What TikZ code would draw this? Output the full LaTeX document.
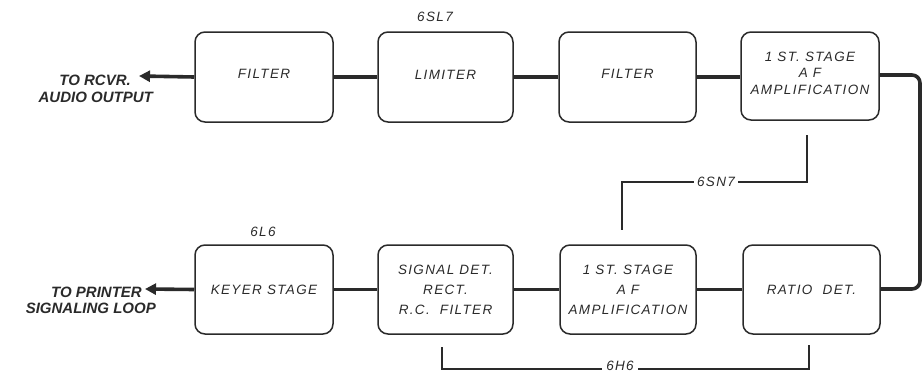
\documentclass[tikz,border=0pt]{standalone}
\usepackage{fontspec}
\setmainfont{Liberation Sans}
\newfontfamily\boxfont[LetterSpace=10]{Liberation Sans}
\newfontfamily\sidefont[LetterSpace=0]{Liberation Sans}
\usetikzlibrary{arrows.meta}
\definecolor{ink}{HTML}{2A2A2A}
\tikzset{
  blk/.style={draw=ink, line width=1.5pt, rounded corners=10pt, inner sep=0pt,
    font=\boxfont\itshape\fontsize{13.5}{20}\selectfont, text=ink, align=center},
  conn/.style={draw=ink, line width=3.6pt},
  outarrow/.style={conn, -{Triangle[length=11pt,width=11pt]}},
  brk/.style={draw=ink, line width=1.2pt},
  tube/.style={font=\boxfont\itshape\fontsize{13.5}{14}\selectfont, text=ink, inner sep=2pt},
  side/.style={font=\sidefont\bfseries\itshape\fontsize{15}{16}\selectfont, text=ink, inner sep=0pt, anchor=east}
}
\begin{document}
\begin{tikzpicture}[x=1pt,y=-1pt]
\useasboundingbox (0,0) rectangle (923,372);
% top row
\node[blk, minimum width=138pt, minimum height=90pt] (f1) at (264,77) {\raisebox{6pt}{FILTER}};
\node[blk, minimum width=135pt, minimum height=90pt] (lim) at (445.5,77) {\raisebox{5pt}{LIMITER}};
\node[blk, minimum width=137pt, minimum height=90pt] (f2) at (627.5,77) {\raisebox{6pt}{FILTER}};
\node[blk, minimum width=138pt, minimum height=88pt] (amp1) at (810,76) {\raisebox{6pt}{\shortstack{1 ST.\ STAGE\\[4pt]A F\\[4pt]AMPLIFICATION}}};
% bottom row
\node[blk, minimum width=138pt, minimum height=89pt] (key) at (264,289.5) {KEYER STAGE};
\node[blk, minimum width=135pt, minimum height=89pt] (sig) at (445.5,289.5) {SIGNAL DET.\\RECT.\\R.C.\ \ FILTER};
\node[blk, minimum width=136pt, minimum height=89pt] (amp2) at (628,289.5) {1 ST.\ STAGE\\A F\\AMPLIFICATION};
\node[blk, minimum width=137pt, minimum height=89pt] (ratio) at (811.5,289.5) {RATIO\ \ DET.};
% row connectors
\draw[conn] (f1) -- (lim);
\draw[conn] (lim) -- (f2);
\draw[conn] (f2.east) -- (f2.east -| amp1.west);
\draw[conn] (key) -- (sig);
\draw[conn] (sig) -- (amp2);
\draw[conn] (amp2) -- (ratio);
% loop on the right
\coordinate (rt) at (920,75);
\coordinate (rb) at (920,289);
\draw[conn, rounded corners=8pt] (amp1.east |- rt) -- (rt) -- (rb) -- (ratio.east |- rb);
% outputs
\coordinate (a1) at (139,76);
\coordinate (a2) at (145,289);
\draw[outarrow] (f1.west) -- (a1);
\draw[outarrow] (key.west) -- (a2);
\node[side] (t1a) at (131,80) {TO RCVR.};
\node[side] (t1b) at (153,97) {AUDIO OUTPUT};
\node[side] (t2a) at (142,292) {TO PRINTER};
\node[side] (t2b) at (156,308) {SIGNALING LOOP};
% tube labels
\node[tube] (sl7) at (435,17) {6SL7};
\node[tube] (l6) at (263,232) {6L6};
% 6SN7 bracket
\coordinate (s1) at (807,135);
\coordinate (s2) at (807,182);
\coordinate (s3) at (622,182);
\coordinate (s4) at (622,230);
\draw[brk] (s1) -- (s2) -- (s3) -- (s4);
\node[tube, fill=white, inner xsep=3pt] (sn7) at (716,182) {6SN7};
% 6H6 bracket
\coordinate (h1) at (442,347);
\coordinate (h2) at (442,369);
\coordinate (h3) at (809,369);
\coordinate (h4) at (809,345);
\draw[brk] (h1) -- (h2) -- (h3) -- (h4);
\node[tube, fill=white, inner xsep=4pt] (h6) at (620,366) {6H6};
\end{tikzpicture}
\end{document}
